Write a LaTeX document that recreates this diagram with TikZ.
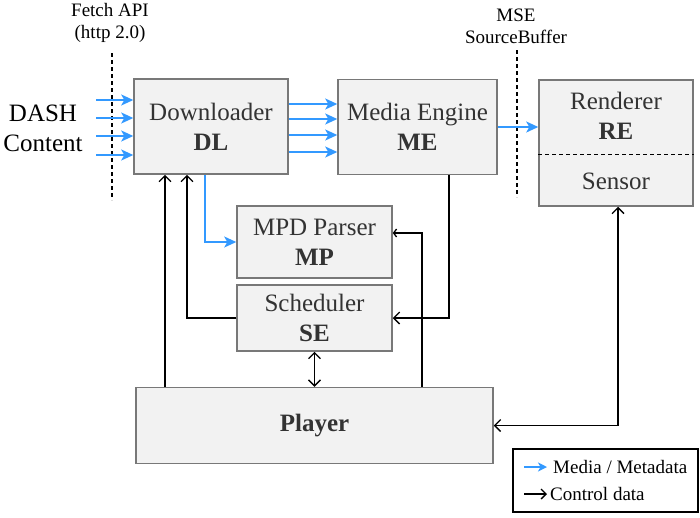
\documentclass[tikz,border=0pt]{standalone}
\usepackage{fontspec}
\setmainfont{Liberation Serif}
\usetikzlibrary{arrows.meta,calc}
\definecolor{mblue}{RGB}{51,153,255}
\definecolor{boxfill}{RGB}{242,242,242}
\definecolor{boxdraw}{RGB}{120,120,120}
\definecolor{boxtext}{RGB}{51,51,51}
\begin{document}
\begin{tikzpicture}[x=1pt,y=-1pt,
  box/.style={draw=boxdraw,line width=1.5pt,fill=boxfill,inner sep=0pt,text=boxtext,align=center,font=\fontsize{25}{30}\selectfont},
  boxlabel/.style={inner sep=0pt,text=boxtext,align=center,font=\fontsize{25}{30}\selectfont},
  biglabel/.style={inner sep=0pt,align=center,font=\fontsize{25}{30}\selectfont},
  smalllabel/.style={inner sep=0pt,align=center,font=\fontsize{19}{22}\selectfont},
  media/.style={mblue,line width=1.5pt,-{Stealth[length=12pt,width=11pt,inset=3pt]}},
  ctrl/.style={black,line width=1.3pt,-{Straight Barb[length=6pt,width=12pt]}},
  ctrlboth/.style={black,line width=1.3pt,{Straight Barb[length=6pt,width=12pt]}-{Straight Barb[length=6pt,width=12pt]}},
  sep/.style={black,line width=1.5pt,dash pattern=on 4pt off 3pt},
]
\useasboundingbox (0,0) rectangle (700,517);

% boxes
\node[box,minimum width=154pt,minimum height=95pt] (DL) at (211,126.5) {Downloader\\\textbf{DL}};
\node[box,minimum width=159pt,minimum height=95pt] (ME) at (417.5,127) {Media Engine\\\textbf{ME}};
\node[box,minimum width=154pt,minimum height=126pt] (RE) at (616,143) {};
\node[boxlabel] (REt) at (616,116) {Renderer\\\textbf{RE}};
\node[boxlabel] (SEN) at (616,181) {Sensor};
\draw[sep,line width=1.3pt] ([yshift=-75pt]RE.north west) -- ([yshift=-75pt]RE.north east);
\node[box,minimum width=155pt,minimum height=72pt] (MP) at (314.5,242) {MPD Parser\\\textbf{MP}};
\node[box,minimum width=155pt,minimum height=66pt] (SE) at (314.5,318) {Scheduler\\\textbf{SE}};
\node[box,minimum width=357pt,minimum height=76pt] (PL) at (314.5,425.5) {\textbf{Player}};

% texts outside
\node[biglabel] (DASH) at (43,128) {DASH\\Content};
\node[smalllabel] (FETCH) at (110,23) {Fetch API\\(http 2.0)};
\node[smalllabel] (MSE) at (516,26) {MSE\\SourceBuffer};

% separators
\coordinate (f1) at (112,53); \coordinate (f2) at (112,200);
\coordinate (g1) at (517,50); \coordinate (g2) at (517,197);
\draw[sep] (f1) -- (f2);
\draw[sep] (g1) -- (g2);

% DASH content arrows
\foreach \i/\y in {1/100,2/118,3/136,4/155}{
  \coordinate (s\i) at (96,\y);
  \draw[media] (s\i) -- (s\i -| DL.west);
}
% DL -> ME
\foreach \i/\y in {1/104,2/119,3/135,4/152}{
  \coordinate (m\i) at (0,\y);
  \draw[media] (DL.east |- m\i) -- (ME.west |- m\i);
}
% ME -> RE
\coordinate (r1) at (0,127);
\draw[media] (ME.east |- r1) -- (RE.west |- r1);
% DL -> MP
\coordinate (xa) at (205,0);
\draw[media] (DL.south -| xa) |- (MP.west);

% control
\coordinate (x165) at (165,0);
\coordinate (x187) at (187,0);
\coordinate (x449) at (449,0);
\coordinate (x422) at (422,0);
\coordinate (x618) at (618,0);
\coordinate (y233) at (0,233);
\draw[ctrl] (PL.north -| x165) -- (DL.south -| x165);
\draw[ctrl] (SE.west) -| (DL.south -| x187);
\draw[ctrl] (ME.south -| x449) |- (SE.east);
\draw[black,line width=1.3pt,-{Straight Barb[length=3pt,width=8pt]}] (PL.north -| x422) |- (MP.east |- y233);
\draw[ctrlboth] (SE.south) -- (PL.north);
\draw[ctrlboth] (PL.east) -| (RE.south -| x618);

% legend
\node[draw=black,line width=1.5pt,minimum width=185pt,minimum height=63pt,inner sep=0pt] (LEG) at (605.5,480.5) {};
\coordinate (la1) at (524,467); \coordinate (la2) at (547,467);
\coordinate (lb1) at (524,494); \coordinate (lb2) at (547,494);
\draw[mblue,line width=1.5pt,-{Stealth[length=9pt,width=9pt,inset=2.5pt]}] (la1) -- (la2);
\draw[black,line width=1.3pt,-{Straight Barb[length=5pt,width=10pt]}] (lb1) -- (lb2);
\node[smalllabel,anchor=west] (LT1) at (553,467) {Media / Metadata};
\node[smalllabel,anchor=west] (LT2) at (550,494) {Control data};
\end{tikzpicture}
\end{document}
